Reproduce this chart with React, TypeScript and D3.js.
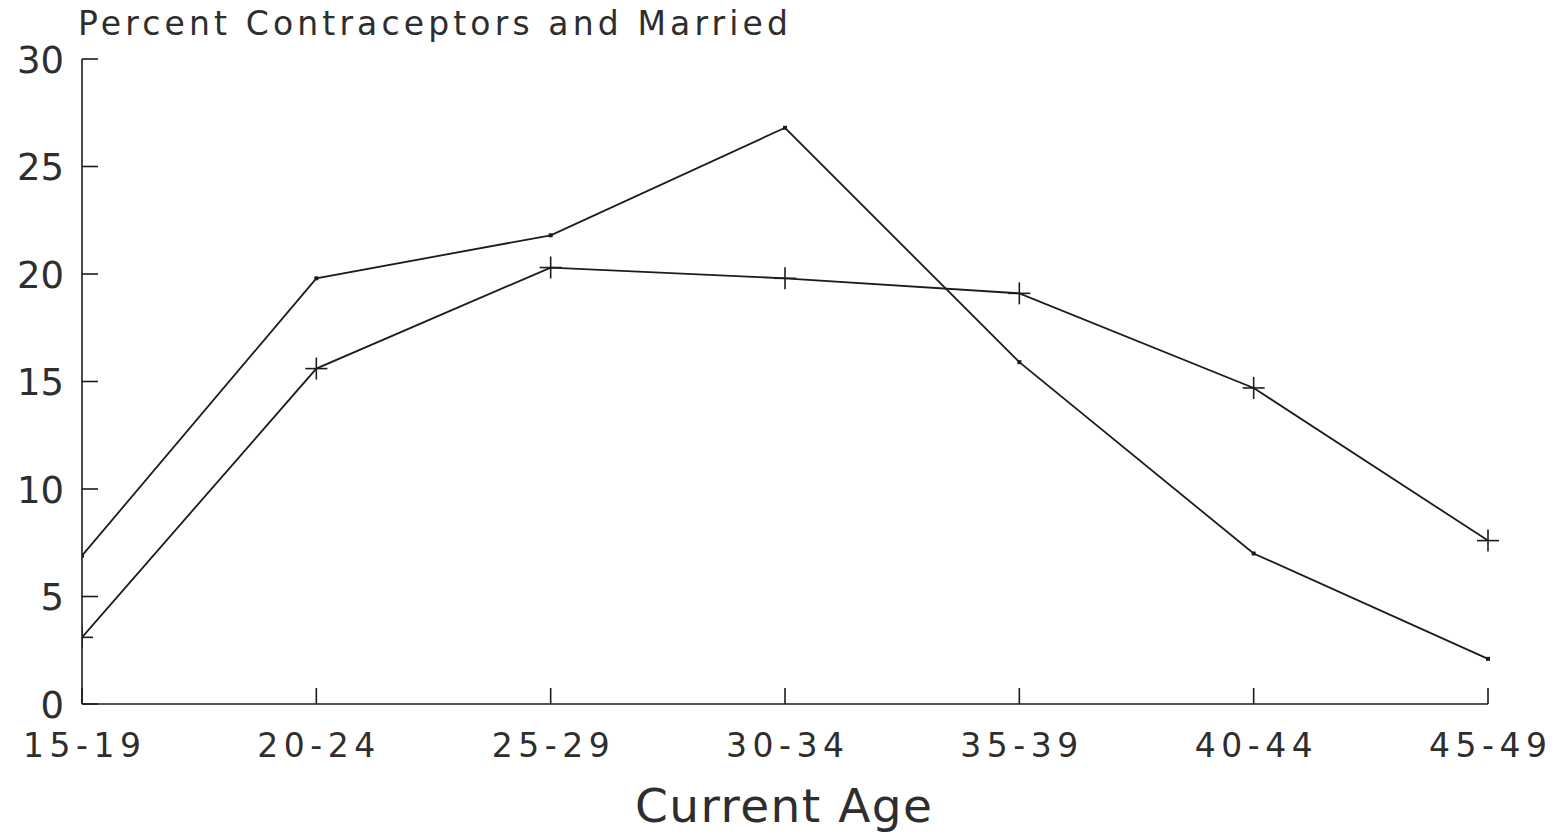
import React from "react";
import * as d3 from "d3";

const ageGroups = ["15-19", "20-24", "25-29", "30-34", "35-39", "40-44", "45-49"];
const contraceptors = [6.9, 19.8, 21.8, 26.8, 15.9, 7.0, 2.1];
const married = [3.1, 15.6, 20.3, 19.8, 19.1, 14.7, 7.6];
const yTicks = [0, 5, 10, 15, 20, 25, 30];

const W = 1557;
const H = 835;
const INK = "#1c1c1c";
const TEXT = "#2e2e2e";
const FONT = "'DejaVu Sans', Verdana, sans-serif";

export default function App() {
  const x = d3.scalePoint<string>().domain(ageGroups).range([82, 1488]);
  const y = d3.scaleLinear().domain([0, 30]).range([704, 59]);
  const line = d3
    .line<number>()
    .x((_, i) => x(ageGroups[i])!)
    .y((d) => y(d));

  const tickLen = 16;
  const plus = 11;
  const dot = 4;

  return (
    <svg
      width={W}
      height={H}
      style={{ position: "absolute", left: 0, top: 0, background: "#fff" }}
    >
      <defs>
        <clipPath id="plotClip">
          <rect x={82} y={0} width={W - 82} height={H} />
        </clipPath>
      </defs>

      {/* title */}
      <text
        x={78}
        y={35}
        fontFamily={FONT}
        fontSize={33}
        fill={TEXT}
        textLength={710}
        lengthAdjust="spacing"
      >
        Percent Contraceptors and Married
      </text>

      {/* axes */}
      <g stroke={INK} strokeWidth={1.6} fill="none">
        <line x1={82} y1={y(30)} x2={82} y2={y(0)} />
        <line x1={82} y1={y(0)} x2={x("45-49")!} y2={y(0)} />
        {yTicks.map((t) => (
          <line key={t} x1={82} x2={82 + tickLen} y1={y(t)} y2={y(t)} />
        ))}
        {ageGroups.map((g) => (
          <line key={g} x1={x(g)!} x2={x(g)!} y1={y(0)} y2={y(0) - tickLen} />
        ))}
      </g>

      {/* y tick labels */}
      {yTicks.map((t) => (
        <text
          key={t}
          x={64}
          y={y(t)}
          dy="0.37em"
          textAnchor="end"
          fontFamily={FONT}
          fontSize={37}
          fill={TEXT}
        >
          {t}
        </text>
      ))}

      {/* x tick labels */}
      {ageGroups.map((g) => (
        <text
          key={g}
          x={x(g)! - 59}
          y={757}
          fontFamily={FONT}
          fontSize={33}
          fill={TEXT}
          textLength={118}
          lengthAdjust="spacing"
        >
          {g}
        </text>
      ))}

      {/* x axis title */}
      <text
        x={635}
        y={822}
        fontFamily={FONT}
        fontSize={47}
        fill={TEXT}
        textLength={297}
        lengthAdjust="spacing"
      >
        Current Age
      </text>

      <g clipPath="url(#plotClip)">
        <path d={line(contraceptors)!} fill="none" stroke={INK} strokeWidth={1.8} />
        <path d={line(married)!} fill="none" stroke={INK} strokeWidth={1.8} />

        {contraceptors.map((v, i) => (
          <rect
            key={"c" + i}
            x={x(ageGroups[i])! - dot / 2}
            y={y(v) - dot / 2}
            width={dot}
            height={dot}
            fill={INK}
          />
        ))}

        {married.map((v, i) => {
          const cx = x(ageGroups[i])!;
          const cy = y(v);
          return (
            <g key={"m" + i} stroke={INK} strokeWidth={1.6}>
              <line x1={cx - plus} x2={cx + plus} y1={cy} y2={cy} />
              <line x1={cx} x2={cx} y1={cy - plus} y2={cy + plus} />
            </g>
          );
        })}
      </g>
    </svg>
  );
}
